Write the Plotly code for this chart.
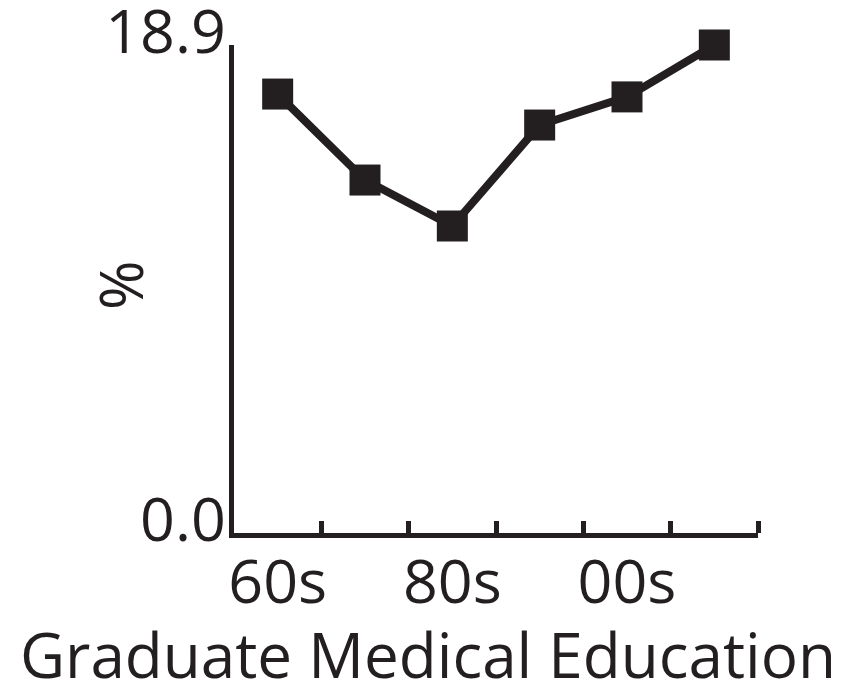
import plotly.graph_objects as go

categories = ["60s", "70s", "80s", "90s", "00s", "10s"]
values = [17.0, 13.67, 11.89, 15.8, 16.89, 18.9]
labeled_categories = ["60s", "80s", "00s"]
y_ticks = [0.0, 18.9]
y_ticktext = ["0.0", "18.9"]
x_title = "Graduate Medical Education"
y_title = "%"

INK = "#231f20"
FONT = "Open Sans"

# page body adds an 8px offset; compensate so the plot lands where the reference has it
OFF = 8
L, T, PW, PH = 234 - OFF, 45 - OFF, 524, 488
W, H = 843 - OFF, 687 - OFF

x_idx = list(range(len(categories)))
lab_idx = [categories.index(c) for c in labeled_categories]
boundaries = [i + 0.5 for i in x_idx]

fig = go.Figure()
fig.add_trace(go.Scatter(
    x=x_idx, y=values, mode="lines+markers",
    line=dict(color=INK, width=8),
    marker=dict(symbol="square", size=31, color=INK),
    cliponaxis=False, showlegend=False,
))

fig.update_layout(
    width=W, height=H,
    margin=dict(l=L, r=W - L - PW, t=T, b=H - T - PH, autoexpand=False),
    paper_bgcolor="white", plot_bgcolor="white",
    font=dict(family=FONT, color=INK, size=60),
)
fig.update_xaxes(
    range=[-0.5, len(categories) - 0.5], automargin=False,
    showgrid=False, zeroline=False,
    showline=True, linecolor=INK, linewidth=5,
    tickvals=lab_idx, ticktext=labeled_categories,
    ticks="", ticklabelstandoff=-8, ticklabeloverflow="allow",
    tickfont=dict(size=61, family=FONT, color=INK),
    minor=dict(tickvals=boundaries, ticks="inside", ticklen=12, tickwidth=5, tickcolor=INK),
)
fig.update_yaxes(
    range=[0, 18.9], automargin=False,
    showgrid=False, zeroline=False,
    showline=True, linecolor=INK, linewidth=5,
    tickvals=y_ticks, ticktext=y_ticktext,
    ticks="inside", ticklen=13, tickwidth=5, tickcolor=INK,
    ticklabelshift=-13, ticklabelstandoff=-9, ticklabeloverflow="allow",
    tickfont=dict(size=61, family=FONT, color=INK),
)
fig.add_annotation(
    text=x_title, xref="paper", yref="paper", x=(428 - 234) / PW, y=(533 - 654) / PH,
    xanchor="center", yanchor="middle", showarrow=False,
    font=dict(size=62, family=FONT, color=INK),
)
fig.add_annotation(
    text=y_title, xref="paper", yref="paper", x=(120 - 234) / PW, y=(533 - 285) / PH,
    xanchor="center", yanchor="middle", textangle=-90, showarrow=False,
    font=dict(size=60, family=FONT, color=INK),
)

fig.write_html("out.html")
